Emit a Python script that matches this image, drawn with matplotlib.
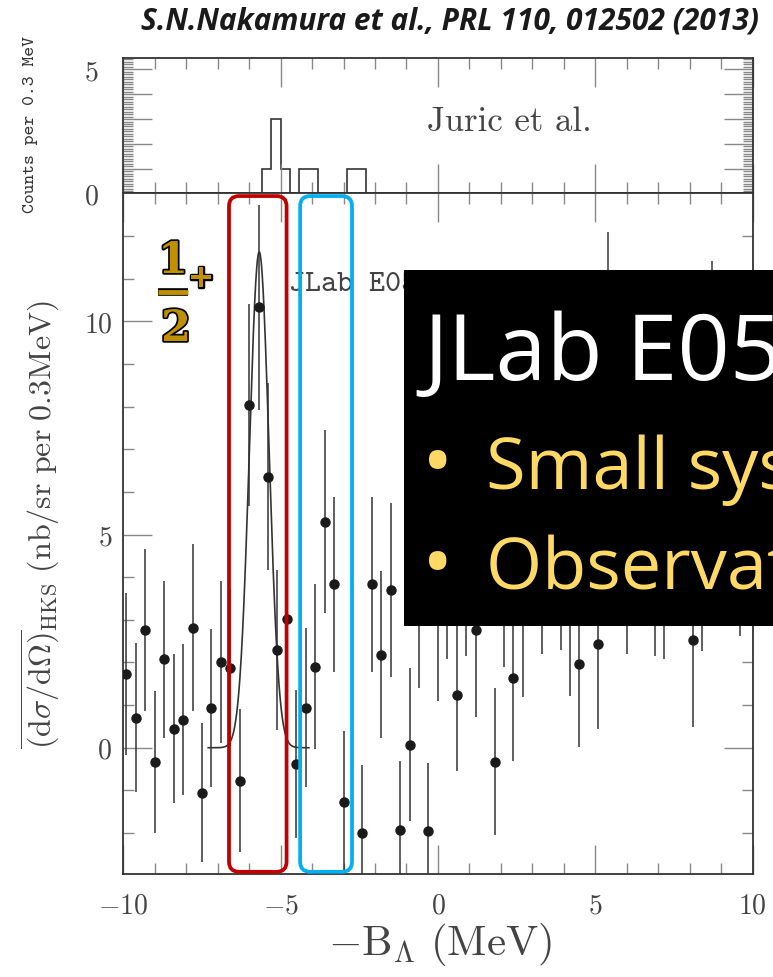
import matplotlib.pyplot as plt
import matplotlib.patheffects as pe
import numpy as np
from matplotlib.lines import Line2D
from matplotlib.patches import FancyBboxPatch, Rectangle

plt.rcParams['mathtext.fontset'] = 'cm'

# HKS spectrum: bin centre (MeV), yield and error (nb/sr per 0.3 MeV)
energy = [-9.9, -9.6, -9.3, -9.0, -8.7, -8.4, -8.1, -7.8, -7.5, -7.2,
          -6.9, -6.6, -6.3, -6.0, -5.7, -5.4, -5.1, -4.8, -4.5, -4.2,
          -3.9, -3.6, -3.3, -3.0, -2.4, -2.1, -1.8, -1.5, -1.2, -0.9,
          -0.6, -0.3, 0.0, 0.3, 0.6, 0.9, 1.2, 1.5, 1.8, 2.1,
          2.4, 2.7, 3.0, 3.3, 3.6, 3.9, 4.2, 4.5, 4.8, 5.1,
          5.4, 5.7, 6.0, 6.3, 6.6, 6.9, 7.2, 7.5, 7.8, 8.1,
          8.4, 8.7, 9.0, 9.3, 9.6, 9.9]
yields = [1.74, 0.70, 2.77, -0.33, 2.07, 0.45, 0.66, 2.82, -1.06, 0.94,
          2.02, 1.88, -0.77, 8.04, 10.33, 6.36, 2.30, 3.03, -0.38, 0.94,
          1.90, 5.30, 3.83, -1.27, -2.00, 3.83, 2.18, 3.71, -1.92, 0.07,
          3.30, -1.95, 3.00, 4.02, 1.23, 4.11, 2.75, 5.00, -0.33, 3.85,
          1.64, 3.09, 5.20, 4.21, 5.30, 4.30, 3.15, 1.96, 5.50, 2.43,
          9.60, 6.00, 4.21, 5.50, 6.00, 4.16, 4.09, 6.00, 5.80, 2.52,
          4.26, 9.00, 6.00, 6.00, 4.61, 6.00]
errors = [1.90, 1.75, 1.90, 1.67, 1.85, 1.74, 1.77, 1.95, 1.63, 1.85,
          1.90, 1.85, 1.68, 2.36, 2.40, 2.20, 1.88, 1.95, 1.73, 1.86,
          1.93, 2.15, 2.06, 1.67, 1.60, 2.06, 1.96, 2.04, 1.62, 1.80,
          1.89, 1.60, 1.91, 1.95, 1.77, 1.95, 2.02, 2.00, 1.72, 1.96,
          1.95, 1.90, 2.00, 2.00, 2.00, 2.00, 1.93, 1.94, 2.10, 2.00,
          2.49, 2.10, 2.00, 2.10, 2.10, 2.00, 2.00, 2.10, 2.10, 2.03,
          2.00, 2.42, 2.10, 2.10, 2.00, 2.10]

# Juric et al. emulsion histogram
juric_edges = [-5.6, -5.3, -5.0, -4.7, -4.4, -4.1, -3.8, -3.5, -3.2, -2.9, -2.6, -2.3]
juric_counts = [1, 3, 1, 0, 1, 1, 0, 0, 0, 1, 1]

# fitted peak
peak_pos = -5.68
peak_height = 11.63
peak_sigma = 0.31
peak_range = (-7.3, -4.1)

# highlight boxes (MeV range) and their common vertical span
red_box = (-6.64, -4.81)
cyan_box = (-4.38, -2.73)
box_y = (-2.91, 12.94)

W, H = 773, 977
fig = plt.figure(figsize=(W / 100, H / 100), dpi=100)
left, right = 123.3, 752.5
ax_top = fig.add_axes([left / W, 1 - 193.5 / H, (right - left) / W, (193.5 - 57.7) / H])
ax = fig.add_axes([left / W, 1 - 873.5 / H, (right - left) / W, (873.5 - 193.5) / H])

grey = '#444444'


def style(a):
    for s in a.spines.values():
        s.set_color('#333333')
        s.set_linewidth(1.3)
    a.tick_params(which='both', direction='in', top=True, right=True,
                  color='#888888', width=1.0, labelcolor=grey, labelsize=20)
    a.tick_params(which='major', length=21)
    a.tick_params(which='minor', length=8)


# top panel
style(ax_top)
ax_top.stairs(juric_counts, juric_edges, color='#333333', lw=1.2)
ax_top.set_xlim(-10, 10)
ax_top.set_ylim(0, 5.47)
ax_top.set_xticks([-10, -5, 0, 5, 10], labels=[])
ax_top.set_xticks(range(-10, 11), minor=True)
ax_top.set_yticks([0, 1, 2, 3, 4, 5], labels=['$0$', '', '', '', '', '$5$'])
ax_top.set_yticks(np.arange(0, 5.45, 0.1), minor=True)
ax_top.tick_params(axis='y', which='minor', length=7)
ax_top.tick_params(axis='y', which='major', pad=18)
ax_top.text(-0.35, 2.5, 'Juric et al.', family='cmr10', fontsize=25, color=grey, va='baseline')
fig.text(31 / W, 1 - 125 / H, 'Counts per 0.3 MeV', rotation=90, family='cmtt10',
         fontsize=13.5, ha='center', va='center', color='#333333')

# main panel
style(ax)
ax.errorbar(energy, yields, yerr=errors, fmt='o', ms=6.5, color='#1a1a1a',
            ecolor='#333333', elinewidth=1.1, capsize=0, zorder=3)
xs = np.linspace(peak_range[0], peak_range[1], 300)
ax.plot(xs, peak_height * np.exp(-0.5 * ((xs - peak_pos) / peak_sigma) ** 2),
        color='#333333', lw=1.2, zorder=2)
ax.set_xlim(-10, 10)
ax.set_ylim(-2.95, 13.0)
ax.set_xticks([-10, -5, 0, 5, 10], labels=['$-10$', '$-5$', '$0$', '$5$', '$10$'])
ax.set_xticks(range(-10, 11), minor=True)
ax.set_yticks([0, 5, 10], labels=['$0$', '$5$', '$10$'])
ax.set_yticks(range(-2, 13), minor=True)
ax.tick_params(axis='x', which='major', pad=13)
ax.tick_params(axis='y', which='major', pad=8)
ax.set_xlabel(r'$-\mathrm{B}_{\Lambda}\ \mathrm{(MeV)}$', fontsize=31, color=grey, va='center')
ax.xaxis.set_label_coords(0.503, -0.105)
ax.set_ylabel(r'$\overline{(\mathrm{d}\sigma/\mathrm{d}\Omega)}_{\mathrm{HKS}}\ '
              r'\mathrm{(nb/sr\ per\ 0.3MeV)}$', fontsize=23, color=grey, va='center')
ax.yaxis.set_label_coords(-0.132, 0.5125)
ax.text(-4.73, 10.72, 'JLab E05-115', family='cmtt10', fontsize=22, color=grey, va='baseline')

# rounded highlight boxes
aspect = ((right - left) / 20) / (680 / (13.0 + 2.95))
for (x0, x1), col in [(red_box, '#C00000'), (cyan_box, '#00B0F0')]:
    ax.add_patch(FancyBboxPatch((x0, box_y[0]), x1 - x0, box_y[1] - box_y[0],
                                boxstyle='round,pad=0,rounding_size=0.32',
                                mutation_aspect=aspect, fill=False, ec=col, lw=2.7,
                                clip_on=False, zorder=5))

# spin label 1/2+
gold = '#BF9000'
outline = [pe.withStroke(linewidth=2.5, foreground='black')]
fig.text(173 / W, 1 - 273 / H, '1', family='DejaVu Serif', weight='bold', fontsize=31,
         color=gold, ha='center', va='baseline', path_effects=outline)
fig.text(176 / W, 1 - 341 / H, '2', family='DejaVu Serif', weight='bold', fontsize=31,
         color=gold, ha='center', va='baseline', path_effects=outline)
fig.text(201 / W, 1 - 278 / H, '+', family='DejaVu Serif', weight='bold', fontsize=24,
         color=gold, ha='center', va='center', path_effects=outline)
fig.add_artist(Line2D([158 / W, 188 / W], [1 - 291.5 / H] * 2, color=gold, lw=3.5,
                      solid_capstyle='butt',
                      path_effects=[pe.Stroke(linewidth=5.5, foreground='black'), pe.Normal()]))

# slide text box over the plot
fig.add_artist(Rectangle((404 / W, 1 - 626 / H), (W - 404) / W + 0.01, (626 - 270) / H,
                         transform=fig.transFigure, fc='black', ec='none', zorder=10))
fig.text(423 / W, 1 - 380 / H, 'JLab E05-115', family='Open Sans', fontsize=66,
         color='white', va='baseline', zorder=11)
yellow = '#FFD966'
for base, line in [(489, 'Small systematic error'), (590, 'Observation of excited states')]:
    fig.text(438 / W, 1 - base / H, '\u2022', family='Open Sans', fontsize=60,
             color=yellow, ha='center', va='baseline', zorder=11)
    fig.text(486 / W, 1 - base / H, line, family='Open Sans', fontsize=52,
             color=yellow, va='baseline', zorder=11)

fig.text(450 / W, 1 - 22 / H, 'S.N.Nakamura et al., PRL 110, 012502 (2013)',
         family='Open Sans', weight='bold', style='italic', fontsize=21.5,
         color='#1a1a1a', ha='center', va='center')

fig.savefig('out.png', dpi=100)
